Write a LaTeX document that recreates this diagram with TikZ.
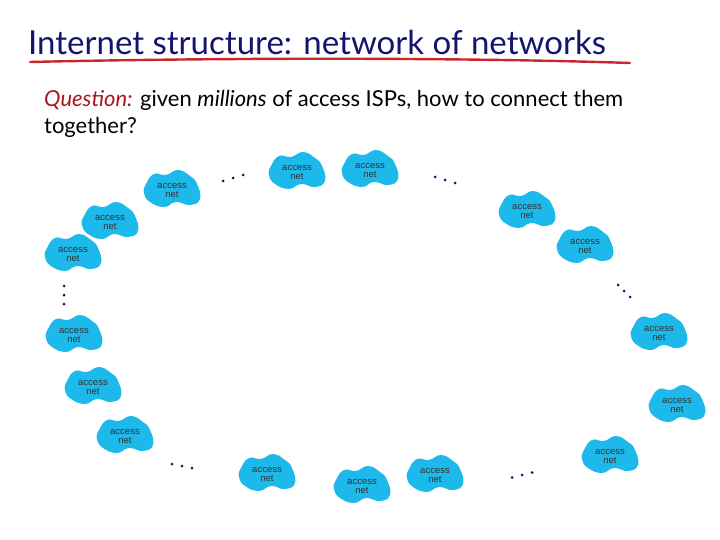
\documentclass[tikz,border=0pt]{standalone}
\usepackage{fontspec}
\setmainfont{Lato}
\newfontfamily\blobfont{Liberation Sans}
\definecolor{navy}{RGB}{20,20,110}
\definecolor{cloud}{RGB}{30,185,235}
\definecolor{qred}{RGB}{170,20,30}
\definecolor{ulred}{RGB}{200,40,45}
\tikzset{
  acc/.pic={
    \fill[cloud] plot[smooth cycle,tension=0.8] coordinates{(-26,-6)(-18,-16)(-6,-15)(6,-20)(18,-14)(25,-6)(28,9)(18,15)(4,12)(-8,17)(-22,12)(-28,3)};
    \node[font=\blobfont\fontsize{9.5}{9}\selectfont,align=center,text=black!80,inner sep=0] (-t) at (0,0) {access\\net};
  },
  dotc/.style={fill=navy,circle,inner sep=0,minimum size=3pt}
}
\begin{document}
\begin{tikzpicture}[x=1pt,y=-1pt]
\useasboundingbox (0,0) rectangle (720,540);
\node[anchor=west,text=navy,font=\fontsize{33}{36}\selectfont,inner sep=0] (title) at (28,42) {Internet structure: network of networks};
\draw[ulred,line width=2.4pt,line cap=round] (30,62) .. controls (200,58) and (450,57) .. (630,63);
\node[anchor=north west,align=left,font=\fontsize{22}{27}\selectfont,inner sep=0] (q) at (44,90) {\textcolor{qred}{\itshape Question:} given \textit{millions} of access ISPs, how to connect them\\together?};
\foreach \x/\y/\n in {172/190/a1,297/172/a2,370/170/a3,527/211/a4,110/222/a5,585/246/a6,73/254/a7,74/335/a8,659/333/a9,93/387/a10,677/405/a11,125/436/a12,610/456/a13,267/474/a14,362/486/a15,435/475/a16}
  \pic (\n) at (\x,\y) {acc};
\foreach \x/\y/\dx/\dy/\n in {233/178/10/-3/d1,445/180/10/3/d2,64/295/0/9/d3,624/291/6/6/d4,182/466/10/2/d5,522/475/10/-2.5/d6}{
  \node[dotc] (\n a) at (\x-\dx,\y-\dy) {};
  \node[dotc] (\n b) at (\x,\y) {};
  \node[dotc] (\n c) at (\x+\dx,\y+\dy) {};
}
\end{tikzpicture}
\end{document}
